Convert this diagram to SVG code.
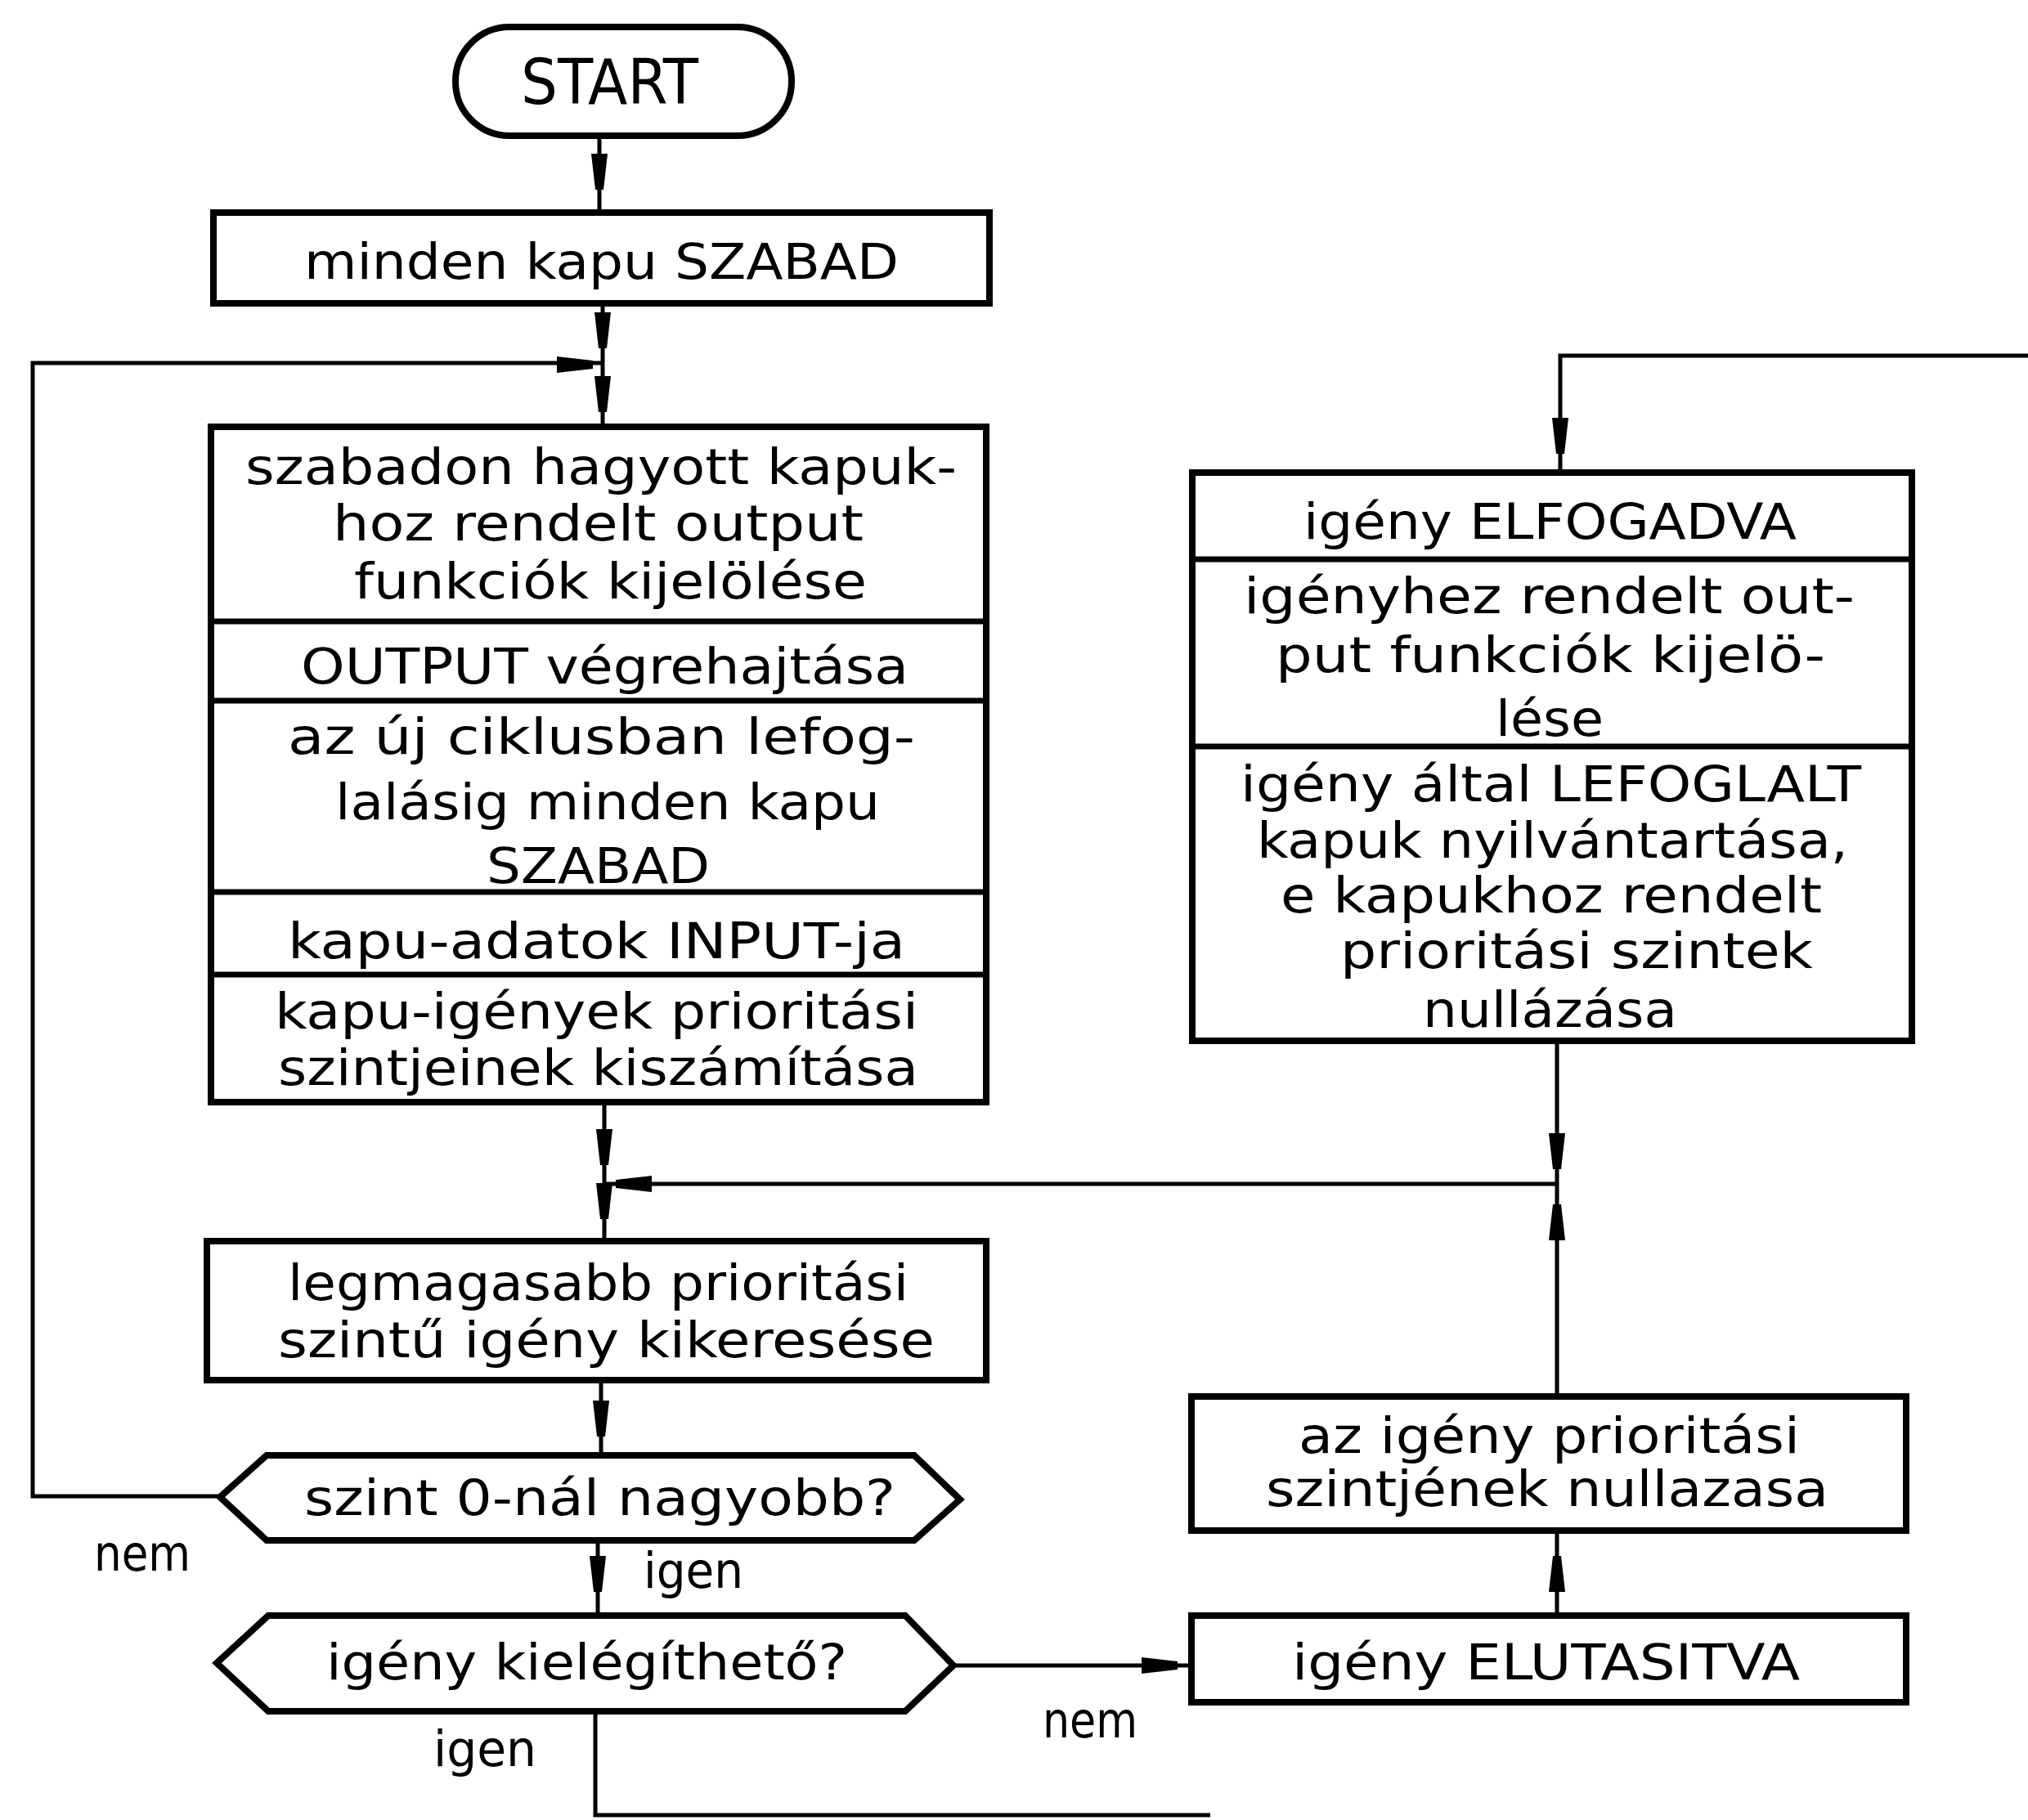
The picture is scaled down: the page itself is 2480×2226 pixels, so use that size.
<svg xmlns="http://www.w3.org/2000/svg" xmlns:xlink="http://www.w3.org/1999/xlink" width="2480" height="2226" viewBox="0 0 2480 2226">
<style>
.b{fill:#fff;stroke:#000;stroke-width:8;stroke-linejoin:miter}
.d{stroke:#000;stroke-width:7;fill:none}
.c{stroke:#000;stroke-width:5;fill:none}
.t{font-family:"DejaVu Sans Condensed","Liberation Sans Narrow","Liberation Sans",sans-serif;font-size:60px;fill:#000}
.s{font-size:76px}
</style>
<defs>
<path id="ah" d="M22,-5 L22,5 L-22,10 L-22,-10 Z" fill="#000"/>
</defs>
<rect width="2480" height="2226" fill="#fff"/>
<g id="connectors">
<polyline class="c" points="733,166 733,260"/>
<use xlink:href="#ah" transform="translate(733,210) rotate(90)"/>
<polyline class="c" points="737,371 737,522"/>
<use xlink:href="#ah" transform="translate(737,404) rotate(90)"/>
<use xlink:href="#ah" transform="translate(737,482) rotate(90)"/>
<polyline class="c" points="269,1830 40,1830 40,444 737,444"/>
<use xlink:href="#ah" transform="translate(703,446) rotate(0)"/>
<polyline class="c" points="739,1348 739,1518"/>
<use xlink:href="#ah" transform="translate(739,1403) rotate(90)"/>
<use xlink:href="#ah" transform="translate(739,1469) rotate(90)"/>
<polyline class="c" points="1904,1448 739,1448"/>
<use xlink:href="#ah" transform="translate(775,1448) rotate(180)"/>
<polyline class="c" points="735,1688 735,1780"/>
<use xlink:href="#ah" transform="translate(735,1735) rotate(90)"/>
<polyline class="c" points="731,1884 731,1976"/>
<use xlink:href="#ah" transform="translate(731,1925) rotate(90)"/>
<polyline class="c" points="1166,2037 1457,2037"/>
<use xlink:href="#ah" transform="translate(1418,2037) rotate(0)"/>
<polyline class="c" points="1904,1976 1904,1872"/>
<use xlink:href="#ah" transform="translate(1904,1925) rotate(-90)"/>
<polyline class="c" points="1904,1708 1904,1273"/>
<use xlink:href="#ah" transform="translate(1904,1495) rotate(-90)"/>
<use xlink:href="#ah" transform="translate(1904,1408) rotate(90)"/>
<polyline class="c" points="728,2093 728,2220 1480,2220"/>
<polyline class="c" points="2480,435 1908,435 1908,578"/>
<use xlink:href="#ah" transform="translate(1908,533) rotate(90)"/>
</g>
<g id="start">
<rect class="b" x="557" y="33" width="411" height="133" rx="66" ry="66"/>
<text class="t s" x="637" y="127" textLength="217" lengthAdjust="spacingAndGlyphs">START</text>
</g>
<g id="minden">
<rect class="b" x="261" y="260" width="949" height="111"/>
<text class="t" x="372" y="341" textLength="727" lengthAdjust="spacingAndGlyphs">minden kapu SZABAD</text>
</g>
<g id="mainbox">
<rect class="b" x="258" y="522" width="948" height="826"/>
<line class="d" x1="258" y1="760" x2="1206" y2="760"/>
<line class="d" x1="258" y1="857" x2="1206" y2="857"/>
<line class="d" x1="258" y1="1091" x2="1206" y2="1091"/>
<line class="d" x1="258" y1="1192" x2="1206" y2="1192"/>
<text class="t" x="300" y="592" textLength="870" lengthAdjust="spacingAndGlyphs">szabadon hagyott kapuk-</text>
<text class="t" x="407" y="661" textLength="649" lengthAdjust="spacingAndGlyphs">hoz rendelt output</text>
<text class="t" x="433" y="732" textLength="627" lengthAdjust="spacingAndGlyphs">funkciók kijelölése</text>
<text class="t" x="368" y="836" textLength="743" lengthAdjust="spacingAndGlyphs">OUTPUT végrehajtása</text>
<text class="t" x="352" y="922" textLength="767" lengthAdjust="spacingAndGlyphs">az új ciklusban lefog-</text>
<text class="t" x="410" y="1002" textLength="666" lengthAdjust="spacingAndGlyphs">lalásig minden kapu</text>
<text class="t" x="595" y="1080" textLength="273" lengthAdjust="spacingAndGlyphs">SZABAD</text>
<text class="t" x="352" y="1172" textLength="755" lengthAdjust="spacingAndGlyphs">kapu-adatok INPUT-ja</text>
<text class="t" x="336" y="1258" textLength="787" lengthAdjust="spacingAndGlyphs">kapu-igények prioritási</text>
<text class="t" x="340" y="1327" textLength="783" lengthAdjust="spacingAndGlyphs">szintjeinek kiszámítása</text>
</g>
<g id="legmag">
<rect class="b" x="253" y="1518" width="953" height="170"/>
<text class="t" x="352" y="1590" textLength="759" lengthAdjust="spacingAndGlyphs">legmagasabb prioritási</text>
<text class="t" x="340" y="1660" textLength="803" lengthAdjust="spacingAndGlyphs">szintű igény kikeresése</text>
</g>
<g id="dec1">
<polygon class="b" points="269,1831 326,1780 1118,1780 1174,1834 1118,1884 326,1884"/>
<text class="t" x="372" y="1853" textLength="723" lengthAdjust="spacingAndGlyphs">szint 0-nál nagyobb?</text>
</g>
<g id="dec2">
<polygon class="b" points="265,2034 328,1976 1107,1976 1166,2037 1107,2093 328,2093"/>
<text class="t" x="399" y="2054" textLength="637" lengthAdjust="spacingAndGlyphs">igény kielégíthető?</text>
</g>
<g id="labels">
<text class="t" x="115" y="1921" textLength="118" lengthAdjust="spacingAndGlyphs">nem</text>
<text class="t" x="787" y="1942" textLength="122" lengthAdjust="spacingAndGlyphs">igen</text>
<text class="t" x="530" y="2160" textLength="126" lengthAdjust="spacingAndGlyphs">igen</text>
<text class="t" x="1275" y="2125" textLength="116" lengthAdjust="spacingAndGlyphs">nem</text>
</g>
<g id="elfogadva">
<rect class="b" x="1458" y="578" width="880" height="695"/>
<line class="d" x1="1458" y1="684" x2="2338" y2="684"/>
<line class="d" x1="1458" y1="913" x2="2338" y2="913"/>
<text class="t" x="1594" y="659" textLength="603" lengthAdjust="spacingAndGlyphs">igény ELFOGADVA</text>
<text class="t" x="1521" y="750" textLength="747" lengthAdjust="spacingAndGlyphs">igényhez rendelt out-</text>
<text class="t" x="1560" y="822" textLength="672" lengthAdjust="spacingAndGlyphs">put funkciók kijelö-</text>
<text class="t" x="1829" y="900" textLength="132" lengthAdjust="spacingAndGlyphs">lése</text>
<text class="t" x="1517" y="980" textLength="759" lengthAdjust="spacingAndGlyphs">igény által LEFOGLALT</text>
<text class="t" x="1537" y="1049" textLength="723" lengthAdjust="spacingAndGlyphs">kapuk nyilvántartása,</text>
<text class="t" x="1566" y="1116" textLength="662" lengthAdjust="spacingAndGlyphs">e kapukhoz rendelt</text>
<text class="t" x="1639" y="1184" textLength="578" lengthAdjust="spacingAndGlyphs">prioritási szintek</text>
<text class="t" x="1740" y="1256" textLength="311" lengthAdjust="spacingAndGlyphs">nullázása</text>
</g>
<g id="nullazas">
<rect class="b" x="1457" y="1708" width="874" height="164"/>
<text class="t" x="1588" y="1777" textLength="613" lengthAdjust="spacingAndGlyphs">az igény prioritási</text>
<text class="t" x="1548" y="1842" textLength="688" lengthAdjust="spacingAndGlyphs">szintjének nullazasa</text>
</g>
<g id="elutasitva">
<rect class="b" x="1457" y="1976" width="874" height="106"/>
<text class="t" x="1580" y="2054" textLength="621" lengthAdjust="spacingAndGlyphs">igény ELUTASITVA</text>
</g>
</svg>
